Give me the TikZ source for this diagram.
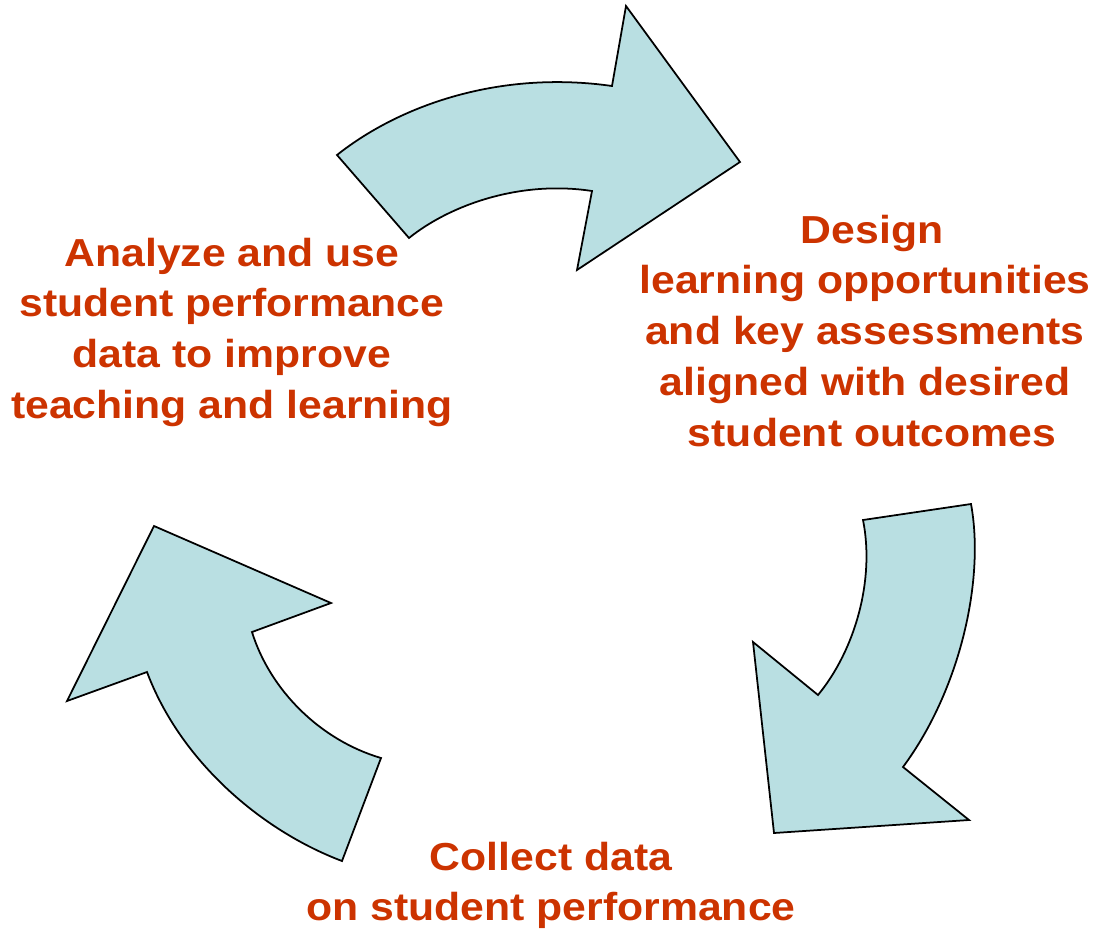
\documentclass[tikz,border=0pt]{standalone}
\usepackage{fontspec}
\setmainfont{Liberation Sans}[FakeStretch=1.095]
\definecolor{arrowfill}{HTML}{B9DFE2}
\definecolor{steptext}{HTML}{CC3300}

\begin{document}
\begin{tikzpicture}[x=0.01cm,y=-0.01cm,
    cyclearrow/.style={draw=black,line width=0.5pt,fill=arrowfill,line join=miter},
    steplabel/.style={text=steptext,font=\fontsize{11.1pt}{14.5pt}\selectfont\bfseries,
      align=center,inner sep=0pt,anchor=north}]
  \useasboundingbox (0,0) rectangle (1094,930);

  % arrow from analyze to design
  \draw[cyclearrow] (337,155) .. controls (400,105) and (500,70) .. (612,86)
    -- (626,6) -- (740,162) -- (577,270) -- (592,191)
    .. controls (520,180) and (450,205) .. (409,238) -- cycle;
  % arrow from design to collect
  \draw[cyclearrow] (863,520) -- (971,504) .. controls (985,580) and (960,690) .. (903,767)
    -- (969,820) -- (774,833) -- (753,642) -- (818,695)
    .. controls (855,650) and (875,580) .. (863,520) -- cycle;
  % arrow from collect to analyze
  \draw[cyclearrow] (381,758) -- (342,861) .. controls (260,830) and (180,760) .. (147,672)
    -- (67,701) -- (154,526) -- (331,603) -- (252,632)
    .. controls (270,690) and (320,740) .. (381,758) -- cycle;

  \node[steplabel] (design) at (865,214) {\hspace*{0.14cm}Design\\learning opportunities\\and key assessments\\aligned with desired\\\hspace*{0.14cm}student outcomes};
  \node[steplabel] (collect) at (551,841) {Collect data\\on student performance};
  \node[steplabel] (analyze) at (232,237) {Analyze and use\\student performance\\data to improve\\teaching and learning};
\end{tikzpicture}
\end{document}
